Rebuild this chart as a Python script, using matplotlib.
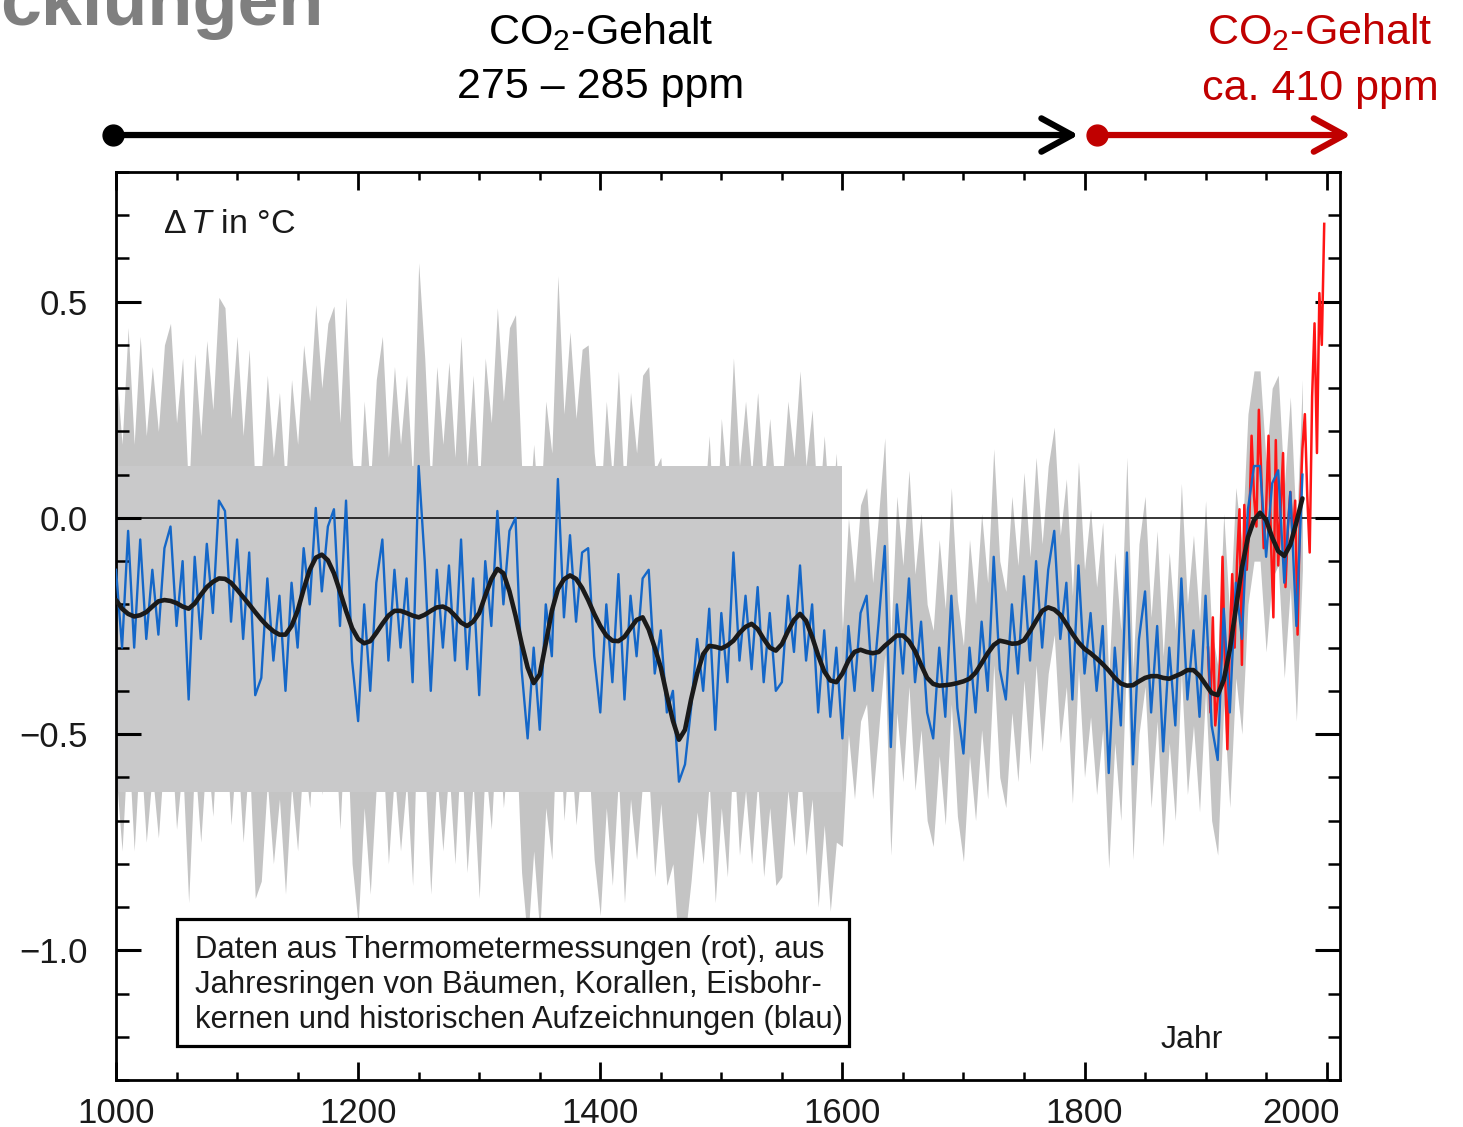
import numpy as np
import matplotlib
matplotlib.use('Agg')
import matplotlib.pyplot as plt
import matplotlib.ticker as mticker
import matplotlib.transforms as mtransforms
from matplotlib.patches import Rectangle

plt.rcParams.update({'font.family': 'Liberation Sans',
                     'mathtext.fontset': 'custom',
                     'mathtext.rm': 'Liberation Sans',
                     'mathtext.it': 'Liberation Sans:italic'})

#==============================================================================
# Data (5-year steps for the proxy series)
#==============================================================================

years = np.arange(1000, 1981, 5)

# reconstruction (blue), one row per century
blue = np.array([
    -0.12, -0.30, -0.03, -0.30, -0.05, -0.28, -0.12, -0.27, -0.07, -0.02,
    -0.25, -0.10, -0.42, -0.09, -0.28, -0.06, -0.22, 0.04, 0.016, -0.24,
    -0.05, -0.28, -0.08, -0.41, -0.37, -0.14, -0.33, -0.18, -0.40, -0.15,
    -0.30, -0.07, -0.20, 0.023, -0.17, -0.02, 0.02, -0.25, 0.04, -0.33,
    -0.47, -0.20, -0.40, -0.15, -0.05, -0.33, -0.12, -0.30, -0.14, -0.38,
    0.12, -0.10, -0.40, -0.12, -0.30, -0.11, -0.33, -0.05, -0.35, -0.14,
    -0.41, -0.10, -0.25, 0.016, -0.20, -0.03, 0.0, -0.35, -0.51, -0.30,
    -0.49, -0.20, -0.32, 0.09, -0.23, -0.04, -0.24, -0.08, -0.07, -0.32,
    -0.45, -0.20, -0.38, -0.13, -0.42, -0.18, -0.32, -0.14, -0.12, -0.36,
    -0.26, -0.45, -0.40, -0.61, -0.57, -0.44, -0.28, -0.40, -0.21, -0.49,
    -0.22, -0.38, -0.08, -0.33, -0.18, -0.35, -0.16, -0.38, -0.22, -0.40,
    -0.38, -0.18, -0.31, -0.11, -0.33, -0.20, -0.45, -0.26, -0.46, -0.30,
    -0.51, -0.25, -0.40, -0.22, -0.18, -0.40, -0.24, -0.065, -0.53, -0.20,
    -0.36, -0.14, -0.38, -0.24, -0.45, -0.51, -0.30, -0.46, -0.18, -0.44,
    -0.545, -0.30, -0.45, -0.24, -0.40, -0.09, -0.35, -0.42, -0.20, -0.36,
    -0.135, -0.33, -0.10, -0.30, -0.12, -0.03, -0.28, -0.15, -0.42, -0.11,
    -0.36, -0.22, -0.40, -0.25, -0.59, -0.30, -0.48, -0.08, -0.57, -0.28,
    -0.17, -0.45, -0.25, -0.54, -0.30, -0.48, -0.14, -0.42, -0.26, -0.46,
    -0.18, -0.48, -0.56, -0.21, -0.45, -0.15, -0.28, 0.02, 0.12, 0.12,
    -0.09, 0.08, 0.11, -0.15, 0.06, -0.25, 0.10])

# smoothed curve (black)
smooth = np.array([
    -0.19, -0.21, -0.222, -0.228, -0.225, -0.218, -0.205, -0.193, -0.19, -0.192,
    -0.197, -0.205, -0.21, -0.198, -0.178, -0.16, -0.148, -0.14, -0.141, -0.15,
    -0.166, -0.183, -0.20, -0.218, -0.235, -0.25, -0.262, -0.27, -0.27, -0.25,
    -0.215, -0.165, -0.12, -0.092, -0.085, -0.098, -0.128, -0.17, -0.215, -0.255,
    -0.28, -0.29, -0.285, -0.266, -0.245, -0.226, -0.215, -0.215, -0.22, -0.226,
    -0.23, -0.224, -0.215, -0.207, -0.205, -0.212, -0.226, -0.242, -0.25, -0.24,
    -0.22, -0.18, -0.142, -0.118, -0.128, -0.17, -0.226, -0.29, -0.346, -0.382,
    -0.362, -0.29, -0.215, -0.165, -0.142, -0.133, -0.141, -0.162, -0.19, -0.222,
    -0.25, -0.272, -0.284, -0.285, -0.275, -0.255, -0.236, -0.23, -0.258, -0.30,
    -0.346, -0.41, -0.469, -0.513, -0.49, -0.42, -0.36, -0.315, -0.296, -0.298,
    -0.302, -0.295, -0.284, -0.266, -0.252, -0.245, -0.257, -0.28, -0.30, -0.307,
    -0.292, -0.262, -0.236, -0.222, -0.238, -0.275, -0.318, -0.355, -0.376, -0.38,
    -0.36, -0.33, -0.31, -0.305, -0.31, -0.313, -0.31, -0.296, -0.284, -0.272,
    -0.272, -0.285, -0.308, -0.34, -0.37, -0.384, -0.388, -0.387, -0.385, -0.382,
    -0.378, -0.372, -0.358, -0.336, -0.313, -0.294, -0.284, -0.287, -0.291, -0.29,
    -0.283, -0.262, -0.238, -0.215, -0.207, -0.212, -0.224, -0.245, -0.268, -0.288,
    -0.303, -0.313, -0.325, -0.338, -0.353, -0.37, -0.383, -0.388, -0.387, -0.378,
    -0.37, -0.366, -0.366, -0.37, -0.372, -0.366, -0.36, -0.352, -0.352, -0.365,
    -0.385, -0.405, -0.41, -0.375, -0.305, -0.21, -0.115, -0.045, -0.005, 0.012,
    -0.005, -0.045, -0.077, -0.088, -0.062, -0.01, 0.045])

# thermometer data (red)
red_years = np.arange(1902, 1999, 2)
red = np.array([
    -0.30, -0.45, -0.23, -0.48, -0.42, -0.33, -0.09, -0.35, -0.535, -0.28,
    -0.13, -0.30, -0.10, 0.02, -0.34, 0.03, -0.12, -0.02, 0.19, 0.05,
    -0.02, 0.25, 0.10, -0.07, 0.02, 0.19, -0.05, -0.23, 0.18, -0.11,
    0.02, 0.15, -0.16, -0.02, 0.06, -0.05, 0.04, -0.27, 0.02, 0.16,
    0.24, 0.05, -0.08, 0.28, 0.45, 0.15, 0.52, 0.40, 0.68])

# uncertainty (grey): half width per calibration period
seg_start = [1000, 1450, 1500, 1600, 1750, 1820]
seg_halfwidth = [0.47, 0.40, 0.45, 0.25, 0.24, 0.22]
band_years = [1000, 1600]
band_lo, band_hi = -0.635, 0.12

halfwidth = np.array(seg_halfwidth)[np.searchsorted(seg_start, years, side='right') - 1]

#==============================================================================
# Plot
#==============================================================================

fig = plt.figure(figsize=(14.63, 11.27), dpi=100)
ax = fig.add_axes([0.0793, 0.0417, 0.8366, 0.8057])

ax.fill_between(years, blue - halfwidth, blue + halfwidth, color='#c4c4c4', lw=0, zorder=1)
ax.fill_between(band_years, band_lo, band_hi, color='#c9c9ca', lw=0, zorder=1.5)
ax.axhline(0, color='black', lw=1.1, zorder=2)
ax.plot(red_years, red, color='#ff1515', lw=1.8, zorder=3)
ax.plot(years, blue, color='#1467c8', lw=1.7, zorder=4)
ax.plot(years, smooth, color='#1a1a1a', lw=3.3, zorder=5, solid_capstyle='round')

ax.set_xlim(1000, 2011)
ax.set_ylim(-1.3, 0.8)
ax.xaxis.set_major_locator(mticker.MultipleLocator(200))
ax.xaxis.set_minor_locator(mticker.MultipleLocator(50))
ax.yaxis.set_major_locator(mticker.MultipleLocator(0.5))
ax.yaxis.set_minor_locator(mticker.MultipleLocator(0.1))
# the last year label sits flush with the right edge, drawn separately below
ax.xaxis.set_major_formatter(mticker.FuncFormatter(lambda v, p: '' if v >= 2000 else '%d' % v))
ax.yaxis.set_major_formatter(mticker.FuncFormatter(lambda v, p: ('%.1f' % v).replace('-', '\u2212')))
ax.tick_params(which='both', direction='in', top=True, right=True, labelsize=25, labelcolor='#1a1a1a')
ax.tick_params(axis='x', which='major', length=13, width=2, pad=12)
ax.tick_params(axis='x', which='minor', length=6, width=1.8)
ax.tick_params(axis='y', which='major', length=18, width=2.2, pad=20)
ax.tick_params(axis='y', which='minor', length=9, width=1.8)
for s in ax.spines.values():
    s.set_linewidth(2)
ax.text(1.0, 0.0, '2000', ha='right', va='top', fontsize=25, color='#1a1a1a',
        transform=ax.transAxes + mtransforms.ScaledTranslation(0, -12 / 72, fig.dpi_scale_trans))

# labels inside the axes
ax.text(0.0384, 0.942, r'$\Delta\,T$ in °C', transform=ax.transAxes, ha='left', va='center', fontsize=24.5, color='#1a1a1a')
ax.text(0.879, 0.044, 'Jahr', transform=ax.transAxes, ha='center', va='center', fontsize=23, color='#1a1a1a')
ax.add_patch(Rectangle((0.0498, 0.0374), 0.549, 0.1399, transform=ax.transAxes,
                       fc='white', ec='black', lw=2.3, zorder=10))
ax.text(0.0645, 0.1046, 'Daten aus Thermometermessungen (rot), aus\n'
        'Jahresringen von Bäumen, Korallen, Eisbohr-\n'
        'kernen und historischen Aufzeichnungen (blau)',
        transform=ax.transAxes, ha='left', va='center', fontsize=22.3, linespacing=1.2,
        color='#1a1a1a', zorder=11)

# CO2 arrows above the chart
trans = mtransforms.blended_transform_factory(ax.transData, ax.transAxes)
ax.text(1400, 1.141, 'CO$_2$-Gehalt', transform=trans, ha='center', va='baseline', fontsize=31)
ax.text(1400, 1.0815, '275 – 285 ppm', transform=trans, ha='center', va='baseline', fontsize=31)
ax.text(1994.5, 1.141, 'CO$_2$-Gehalt', transform=trans, ha='center', va='baseline', fontsize=31, color='#c00000')
ax.text(1994.5, 1.079, 'ca. 410 ppm', transform=trans, ha='center', va='baseline', fontsize=31, color='#c00000')

for x0, x1, col in [(997.5, 1795, 'black'), (1810, 2020, '#c00000')]:
    ax.annotate('', xy=(x1, 1.0407), xytext=(x0, 1.0407), xycoords=trans, textcoords=trans,
                arrowprops=dict(arrowstyle='->,head_length=2.2,head_width=1.2', lw=4.5, color=col,
                                shrinkA=0, shrinkB=0, mutation_scale=10),
                annotation_clip=False)
    ax.plot([x0], [1.0407], 'o', ms=15, color=col, transform=trans, clip_on=False)

# title fragment cut at the top left
fig.text(0.0, 1 - 25 / 1127, 'cklungen', ha='left', va='baseline', fontsize=53,
         fontweight='bold', color='#7f7f7f')

fig.savefig('out.png', dpi=100)
